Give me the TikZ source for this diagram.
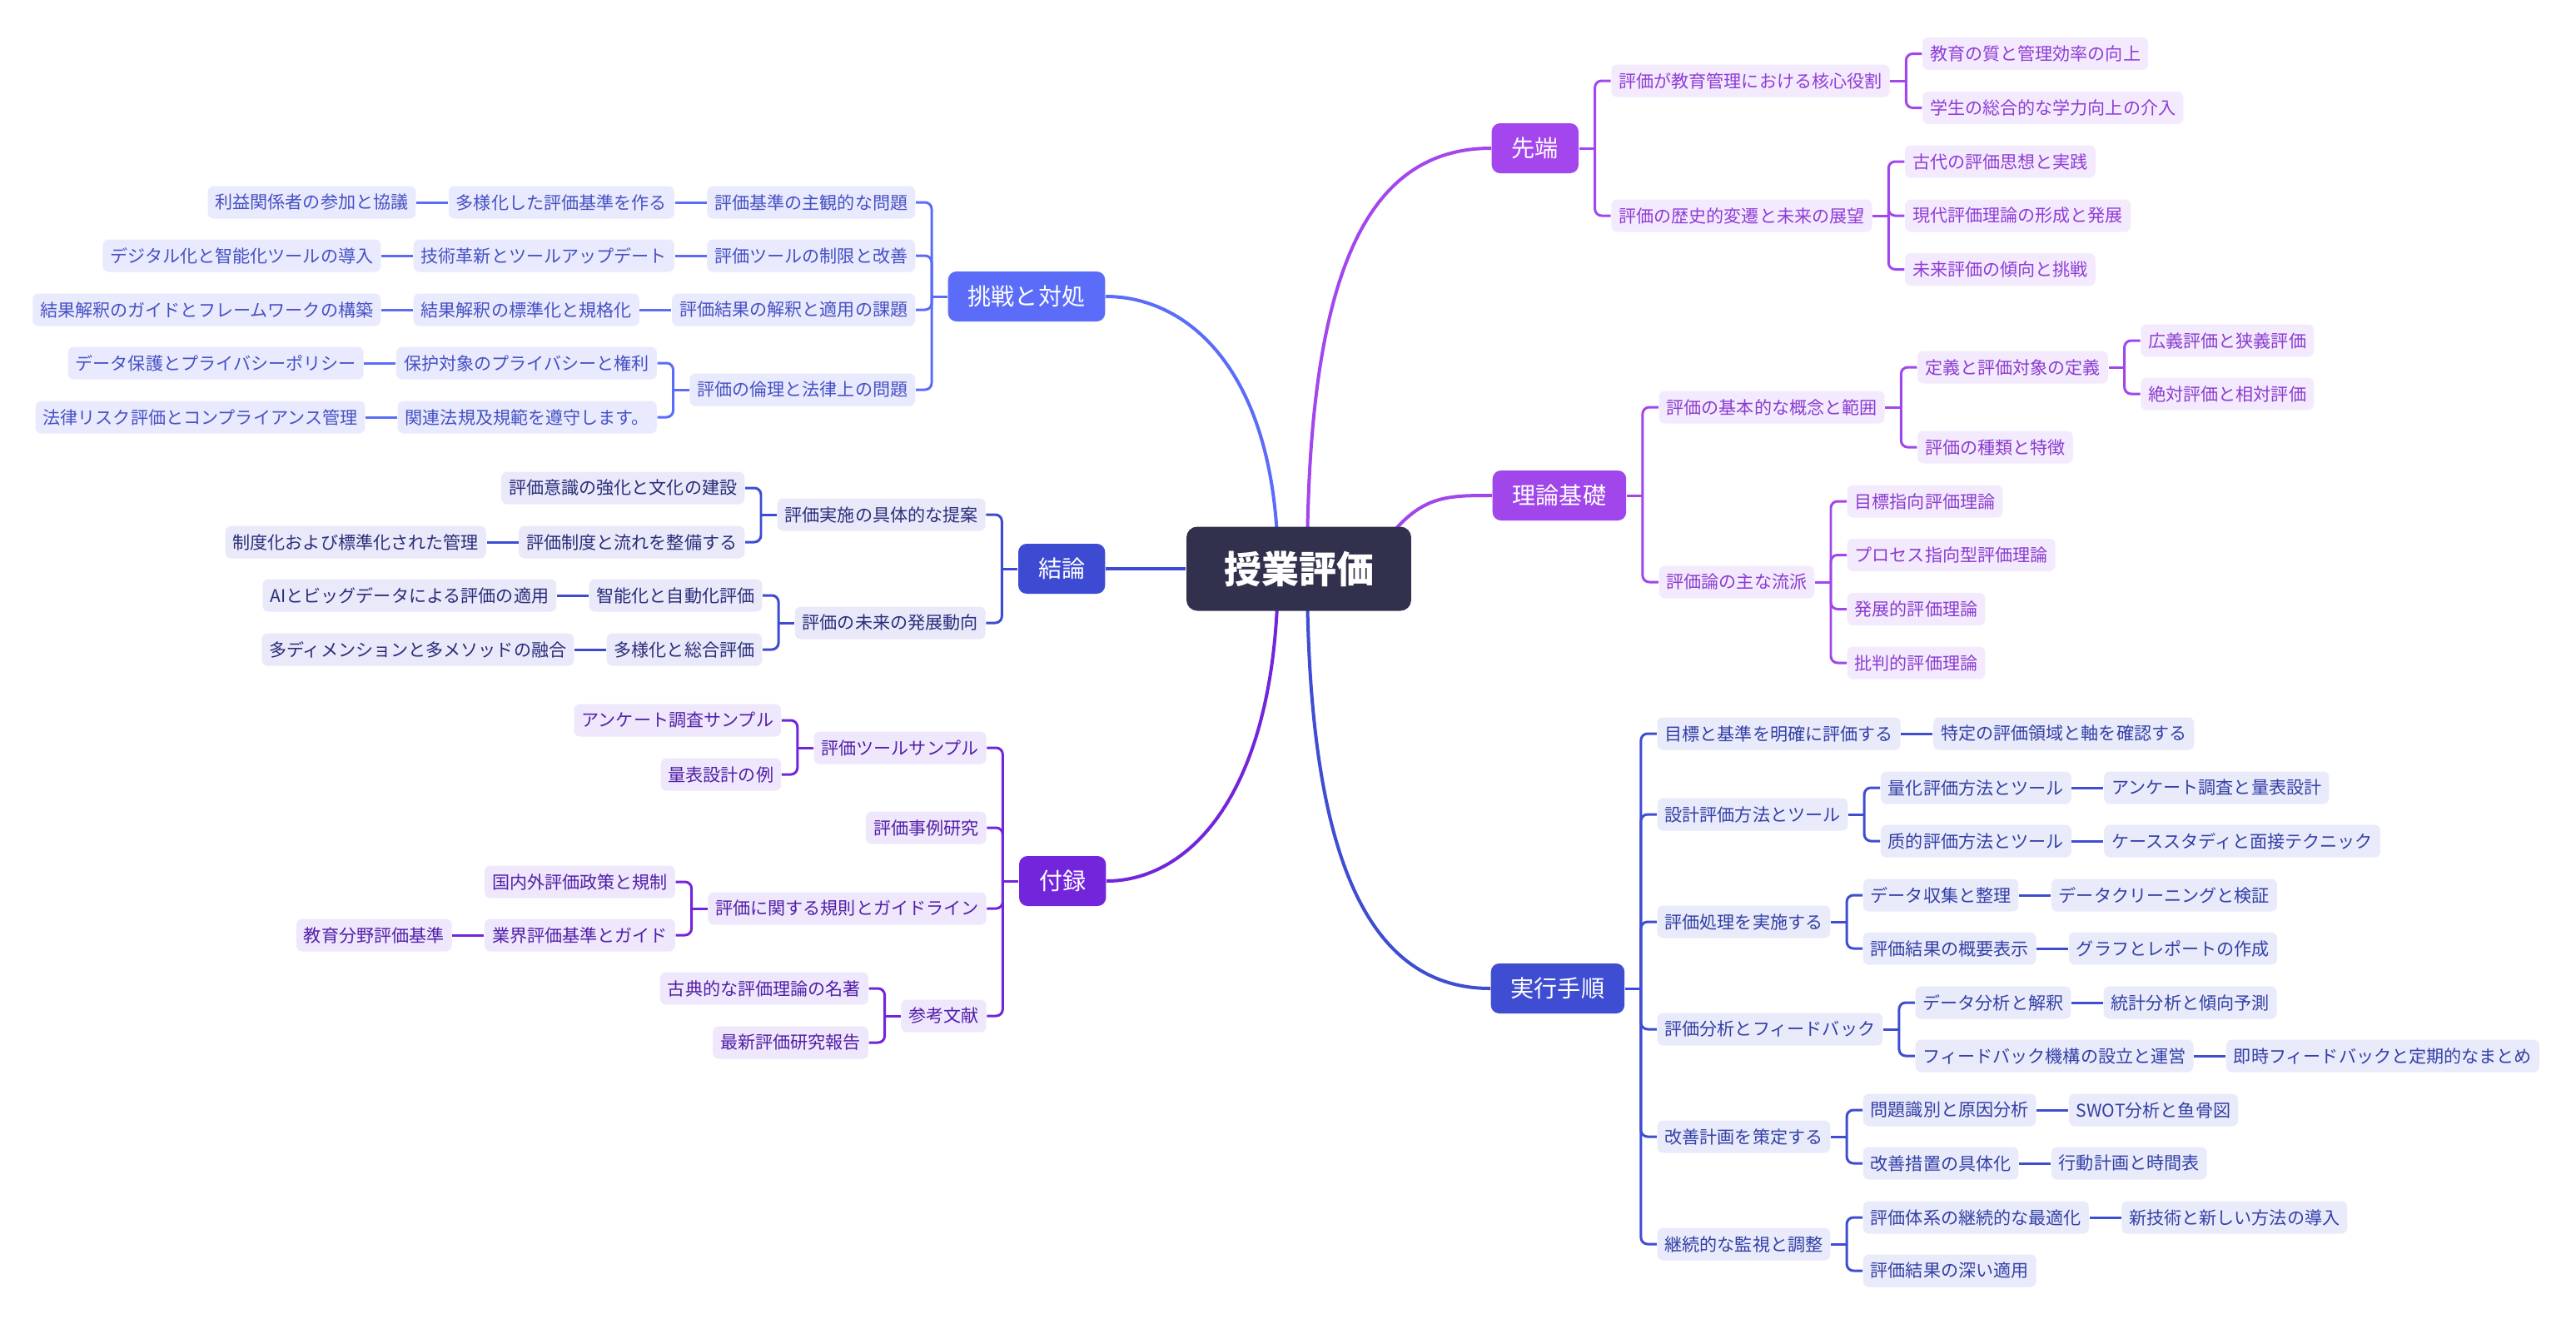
\documentclass[tikz,border=0pt]{standalone}
\usepackage{fontspec}
\setmainfont{Noto Sans CJK JP}
\usepackage{tikz}
\usetikzlibrary{positioning,calc,backgrounds}
\definecolor{rootcolor}{HTML}{31304D}
\definecolor{chosencolor}{HTML}{5B6DF8}
\definecolor{chosenfill}{HTML}{E9EAFD}
\definecolor{chosentext}{HTML}{4651C4}
\definecolor{ketsuroncolor}{HTML}{3D4BD3}
\definecolor{ketsuronfill}{HTML}{E9E9FA}
\definecolor{ketsurontext}{HTML}{2B2D7A}
\definecolor{furokucolor}{HTML}{7325DB}
\definecolor{furokufill}{HTML}{EFE7FC}
\definecolor{furokutext}{HTML}{5220A8}
\definecolor{sentancolor}{HTML}{A346EE}
\definecolor{sentanfill}{HTML}{F4EAFD}
\definecolor{sentantext}{HTML}{8E3DD6}
\definecolor{rironcolor}{HTML}{A046EA}
\definecolor{rironfill}{HTML}{F4EAFD}
\definecolor{rirontext}{HTML}{8A3CD0}
\definecolor{jikkocolor}{HTML}{3F4DD2}
\definecolor{jikkofill}{HTML}{E9EAFA}
\definecolor{jikkotext}{HTML}{3340A6}

\tikzset{
  rootbox/.style={rectangle,rounded corners=0.13cm,fill=rootcolor,text=white,minimum height=1.01cm,inner xsep=0.45cm,inner ysep=0pt,font=\fontsize{12.8}{14}\selectfont\bfseries},
  topic/.style={rectangle,rounded corners=0.1cm,minimum height=0.6cm,inner xsep=0.24cm,inner ysep=0pt,text=white,font=\fontsize{8}{9}\selectfont},
  leaf/.style={rectangle,rounded corners=0.07cm,minimum height=0.39cm,inner xsep=0.09cm,inner ysep=0pt,font=\fontsize{6}{7}\selectfont},
  link/.style={line width=0.85pt,rounded corners=0.08cm},
  mainlink/.style={line width=1.14pt},
  chosentopic/.style={topic,fill=chosencolor},
  chosenleaf/.style={leaf,fill=chosenfill,text=chosentext},
  chosenline/.style={link,draw=chosencolor},
  ketsurontopic/.style={topic,fill=ketsuroncolor},
  ketsuronleaf/.style={leaf,fill=ketsuronfill,text=ketsurontext},
  ketsuronline/.style={link,draw=ketsuroncolor},
  furokutopic/.style={topic,fill=furokucolor},
  furokuleaf/.style={leaf,fill=furokufill,text=furokutext},
  furokuline/.style={link,draw=furokucolor},
  sentantopic/.style={topic,fill=sentancolor},
  sentanleaf/.style={leaf,fill=sentanfill,text=sentantext},
  sentanline/.style={link,draw=sentancolor},
  rirontopic/.style={topic,fill=rironcolor},
  rironleaf/.style={leaf,fill=rironfill,text=rirontext},
  rironline/.style={link,draw=rironcolor},
  jikkotopic/.style={topic,fill=jikkocolor},
  jikkoleaf/.style={leaf,fill=jikkofill,text=jikkotext},
  jikkoline/.style={link,draw=jikkocolor}
}

\begin{document}
\begin{tikzpicture}[node distance=0.38cm]
\useasboundingbox (0,0) rectangle (30.94,-16.07);
\node[rootbox] (root) at (15.60,-6.83) {授業評価};

% 先端
\node[sentantopic,anchor=west] (sentan) at (17.91,-1.78) {先端};
\node[sentanleaf,right=of sentan,yshift=0.81cm] (sentan1) {評価が教育管理における核心役割};
\node[sentanleaf,right=of sentan,yshift=-0.81cm] (sentan2) {評価の歴史的変遷と未来の展望};
\node[sentanleaf,right=of sentan1,yshift=0.325cm] (sentan11) {教育の質と管理効率の向上};
\node[sentanleaf,right=of sentan1,yshift=-0.325cm] (sentan12) {学生の総合的な学力向上の介入};
\node[sentanleaf,right=of sentan2,yshift=0.65cm] (sentan21) {古代の評価思想と実践};
\node[sentanleaf,right=of sentan2] (sentan22) {現代評価理論の形成と発展};
\node[sentanleaf,right=of sentan2,yshift=-0.645cm] (sentan23) {未来評価の傾向と挑戦};
\draw[sentanline] (sentan.east) -- ++(0.19,0) coordinate (sentanbar);
\draw[sentanline] (sentanbar) |- (sentan1.west);
\draw[sentanline] (sentanbar) |- (sentan2.west);
\draw[sentanline] (sentan1.east) -- ++(0.19,0) coordinate (sentan1bar);
\draw[sentanline] (sentan1bar) |- (sentan11.west);
\draw[sentanline] (sentan1bar) |- (sentan12.west);
\draw[sentanline] (sentan2.east) -- ++(0.19,0) coordinate (sentan2bar);
\draw[sentanline] (sentan2bar) |- (sentan21.west);
\draw[sentanline] (sentan2bar) |- (sentan22.west);
\draw[sentanline] (sentan2bar) |- (sentan23.west);

% 理論基礎
\node[rirontopic,anchor=west] (riron) at (17.92,-5.95) {理論基礎};
\node[rironleaf,right=of riron,yshift=1.06cm] (riron1) {評価の基本的な概念と範囲};
\node[rironleaf,right=of riron,yshift=-1.04cm] (riron2) {評価論の主な流派};
\node[rironleaf,right=of riron1,yshift=0.48cm] (riron11) {定義と評価対象の定義};
\node[rironleaf,right=of riron1,yshift=-0.48cm] (riron12) {評価の種類と特徴};
\node[rironleaf,right=of riron11,yshift=0.32cm] (riron111) {広義評価と狭義評価};
\node[rironleaf,right=of riron11,yshift=-0.32cm] (riron112) {絶対評価と相対評価};
\node[rironleaf,right=of riron2,yshift=0.97cm] (riron21) {目標指向評価理論};
\node[rironleaf,right=of riron2,yshift=0.325cm] (riron22) {プロセス指向型評価理論};
\node[rironleaf,right=of riron2,yshift=-0.325cm] (riron23) {発展的評価理論};
\node[rironleaf,right=of riron2,yshift=-0.97cm] (riron24) {批判的評価理論};
\draw[rironline] (riron.east) -- ++(0.19,0) coordinate (rironbar);
\draw[rironline] (rironbar) |- (riron1.west);
\draw[rironline] (rironbar) |- (riron2.west);
\draw[rironline] (riron1.east) -- ++(0.19,0) coordinate (riron1bar);
\draw[rironline] (riron1bar) |- (riron11.west);
\draw[rironline] (riron1bar) |- (riron12.west);
\draw[rironline] (riron11.east) -- ++(0.19,0) coordinate (riron11bar);
\draw[rironline] (riron11bar) |- (riron111.west);
\draw[rironline] (riron11bar) |- (riron112.west);
\draw[rironline] (riron2.east) -- ++(0.19,0) coordinate (riron2bar);
\draw[rironline] (riron2bar) |- (riron21.west);
\draw[rironline] (riron2bar) |- (riron22.west);
\draw[rironline] (riron2bar) |- (riron23.west);
\draw[rironline] (riron2bar) |- (riron24.west);

% 実行手順
\node[jikkotopic,anchor=west] (jikko) at (17.90,-11.87) {実行手順};
\node[jikkoleaf,right=of jikko,yshift=3.06cm] (jikko1) {目標と基準を明確に評価する};
\node[jikkoleaf,right=of jikko1] (jikko11) {特定の評価領域と軸を確認する};
\node[jikkoleaf,right=of jikko,yshift=2.09cm] (jikko2) {設計評価方法とツール};
\node[jikkoleaf,right=of jikko2,yshift=0.32cm] (jikko21) {量化評価方法とツール};
\node[jikkoleaf,right=of jikko21] (jikko211) {アンケート調査と量表設計};
\node[jikkoleaf,right=of jikko2,yshift=-0.32cm] (jikko22) {质的評価方法とツール};
\node[jikkoleaf,right=of jikko22] (jikko221) {ケーススタディと面接テクニック};
\node[jikkoleaf,right=of jikko,yshift=0.80cm] (jikko3) {評価処理を実施する};
\node[jikkoleaf,right=of jikko3,yshift=0.32cm] (jikko31) {データ収集と整理};
\node[jikkoleaf,right=of jikko31] (jikko311) {データクリーニングと検証};
\node[jikkoleaf,right=of jikko3,yshift=-0.32cm] (jikko32) {評価結果の概要表示};
\node[jikkoleaf,right=of jikko32] (jikko321) {グラフとレポートの作成};
\node[jikkoleaf,right=of jikko,yshift=-0.49cm] (jikko4) {評価分析とフィードバック};
\node[jikkoleaf,right=of jikko4,yshift=0.32cm] (jikko41) {データ分析と解釈};
\node[jikkoleaf,right=of jikko41] (jikko411) {統計分析と傾向予測};
\node[jikkoleaf,right=of jikko4,yshift=-0.32cm] (jikko42) {フィードバック機構の設立と運営};
\node[jikkoleaf,right=of jikko42] (jikko421) {即時フィードバックと定期的なまとめ};
\node[jikkoleaf,right=of jikko,yshift=-1.78cm] (jikko5) {改善計画を策定する};
\node[jikkoleaf,right=of jikko5,yshift=0.32cm] (jikko51) {問題識別と原因分析};
\node[jikkoleaf,right=of jikko51] (jikko511) {SWOT分析と鱼骨図};
\node[jikkoleaf,right=of jikko5,yshift=-0.32cm] (jikko52) {改善措置の具体化};
\node[jikkoleaf,right=of jikko52] (jikko521) {行動計画と時間表};
\node[jikkoleaf,right=of jikko,yshift=-3.07cm] (jikko6) {継続的な監視と調整};
\node[jikkoleaf,right=of jikko6,yshift=0.32cm] (jikko61) {評価体系の継続的な最適化};
\node[jikkoleaf,right=of jikko61] (jikko611) {新技術と新しい方法の導入};
\node[jikkoleaf,right=of jikko6,yshift=-0.32cm] (jikko62) {評価結果の深い適用};
\draw[jikkoline] (jikko.east) -- ++(0.19,0) coordinate (jikkobar);
\draw[jikkoline] (jikkobar) |- (jikko1.west);
\draw[jikkoline] (jikkobar) |- (jikko2.west);
\draw[jikkoline] (jikkobar) |- (jikko3.west);
\draw[jikkoline] (jikkobar) |- (jikko4.west);
\draw[jikkoline] (jikkobar) |- (jikko5.west);
\draw[jikkoline] (jikkobar) |- (jikko6.west);
\draw[jikkoline] (jikko1.east) -- (jikko11.west);
\draw[jikkoline] (jikko2.east) -- ++(0.19,0) coordinate (jikko2bar);
\draw[jikkoline] (jikko2bar) |- (jikko21.west);
\draw[jikkoline] (jikko2bar) |- (jikko22.west);
\draw[jikkoline] (jikko21.east) -- (jikko211.west);
\draw[jikkoline] (jikko22.east) -- (jikko221.west);
\draw[jikkoline] (jikko3.east) -- ++(0.19,0) coordinate (jikko3bar);
\draw[jikkoline] (jikko3bar) |- (jikko31.west);
\draw[jikkoline] (jikko3bar) |- (jikko32.west);
\draw[jikkoline] (jikko31.east) -- (jikko311.west);
\draw[jikkoline] (jikko32.east) -- (jikko321.west);
\draw[jikkoline] (jikko4.east) -- ++(0.19,0) coordinate (jikko4bar);
\draw[jikkoline] (jikko4bar) |- (jikko41.west);
\draw[jikkoline] (jikko4bar) |- (jikko42.west);
\draw[jikkoline] (jikko41.east) -- (jikko411.west);
\draw[jikkoline] (jikko42.east) -- (jikko421.west);
\draw[jikkoline] (jikko5.east) -- ++(0.19,0) coordinate (jikko5bar);
\draw[jikkoline] (jikko5bar) |- (jikko51.west);
\draw[jikkoline] (jikko5bar) |- (jikko52.west);
\draw[jikkoline] (jikko51.east) -- (jikko511.west);
\draw[jikkoline] (jikko52.east) -- (jikko521.west);
\draw[jikkoline] (jikko6.east) -- ++(0.19,0) coordinate (jikko6bar);
\draw[jikkoline] (jikko6bar) |- (jikko61.west);
\draw[jikkoline] (jikko6bar) |- (jikko62.west);
\draw[jikkoline] (jikko61.east) -- (jikko611.west);

% 挑戦と対処
\node[chosentopic,anchor=east] (chosen) at (13.28,-3.56) {挑戦と対処};
\node[chosenleaf,left=of chosen,yshift=1.13cm] (chosen1) {評価基準の主観的な問題};
\node[chosenleaf,left=of chosen1] (chosen11) {多様化した評価基準を作る};
\node[chosenleaf,left=of chosen11] (chosen111) {利益関係者の参加と協議};
\node[chosenleaf,left=of chosen,yshift=0.49cm] (chosen2) {評価ツールの制限と改善};
\node[chosenleaf,left=of chosen2] (chosen21) {技術革新とツールアップデート};
\node[chosenleaf,left=of chosen21] (chosen211) {デジタル化と智能化ツールの導入};
\node[chosenleaf,left=of chosen,yshift=-0.16cm] (chosen3) {評価結果の解釈と適用の課題};
\node[chosenleaf,left=of chosen3] (chosen31) {結果解釈の標準化と規格化};
\node[chosenleaf,left=of chosen31] (chosen311) {結果解釈のガイドとフレームワークの構築};
\node[chosenleaf,left=of chosen,yshift=-1.12cm] (chosen4) {評価の倫理と法律上の問題};
\node[chosenleaf,left=of chosen4,yshift=0.32cm] (chosen41) {保护対象のプライバシーと権利};
\node[chosenleaf,left=of chosen41] (chosen411) {データ保護とプライバシーポリシー};
\node[chosenleaf,left=of chosen4,yshift=-0.33cm] (chosen42) {関連法規及規範を遵守します。};
\node[chosenleaf,left=of chosen42] (chosen421) {法律リスク評価とコンプライアンス管理};
\draw[chosenline] (chosen.west) -- ++(-0.19,0) coordinate (chosenbar);
\draw[chosenline] (chosenbar) |- (chosen1.east);
\draw[chosenline] (chosenbar) |- (chosen2.east);
\draw[chosenline] (chosenbar) |- (chosen3.east);
\draw[chosenline] (chosenbar) |- (chosen4.east);
\draw[chosenline] (chosen1.west) -- (chosen11.east);
\draw[chosenline] (chosen11.west) -- (chosen111.east);
\draw[chosenline] (chosen2.west) -- (chosen21.east);
\draw[chosenline] (chosen21.west) -- (chosen211.east);
\draw[chosenline] (chosen3.west) -- (chosen31.east);
\draw[chosenline] (chosen31.west) -- (chosen311.east);
\draw[chosenline] (chosen4.west) -- ++(-0.19,0) coordinate (chosen4bar);
\draw[chosenline] (chosen4bar) |- (chosen41.east);
\draw[chosenline] (chosen4bar) |- (chosen42.east);
\draw[chosenline] (chosen41.west) -- (chosen411.east);
\draw[chosenline] (chosen42.west) -- (chosen421.east);

% 結論
\node[ketsurontopic,anchor=east] (ketsuron) at (13.28,-6.83) {結論};
\node[ketsuronleaf,left=of ketsuron,yshift=0.65cm] (ketsuron1) {評価実施の具体的な提案};
\node[ketsuronleaf,left=of ketsuron,yshift=-0.65cm] (ketsuron2) {評価の未来の発展動向};
\node[ketsuronleaf,left=of ketsuron1,yshift=0.32cm] (ketsuron11) {評価意識の強化と文化の建設};
\node[ketsuronleaf,left=of ketsuron1,yshift=-0.33cm] (ketsuron12) {評価制度と流れを整備する};
\node[ketsuronleaf,left=of ketsuron12] (ketsuron121) {制度化および標準化された管理};
\node[ketsuronleaf,left=of ketsuron2,yshift=0.33cm] (ketsuron21) {智能化と自動化評価};
\node[ketsuronleaf,left=of ketsuron21] (ketsuron211) {AIとビッグデータによる評価の適用};
\node[ketsuronleaf,left=of ketsuron2,yshift=-0.32cm] (ketsuron22) {多様化と総合評価};
\node[ketsuronleaf,left=of ketsuron22] (ketsuron221) {多ディメンションと多メソッドの融合};
\draw[ketsuronline] (ketsuron.west) -- ++(-0.19,0) coordinate (ketsuronbar);
\draw[ketsuronline] (ketsuronbar) |- (ketsuron1.east);
\draw[ketsuronline] (ketsuronbar) |- (ketsuron2.east);
\draw[ketsuronline] (ketsuron1.west) -- ++(-0.19,0) coordinate (ketsuron1bar);
\draw[ketsuronline] (ketsuron1bar) |- (ketsuron11.east);
\draw[ketsuronline] (ketsuron1bar) |- (ketsuron12.east);
\draw[ketsuronline] (ketsuron12.west) -- (ketsuron121.east);
\draw[ketsuronline] (ketsuron2.west) -- ++(-0.19,0) coordinate (ketsuron2bar);
\draw[ketsuronline] (ketsuron2bar) |- (ketsuron21.east);
\draw[ketsuronline] (ketsuron2bar) |- (ketsuron22.east);
\draw[ketsuronline] (ketsuron21.west) -- (ketsuron211.east);
\draw[ketsuronline] (ketsuron22.west) -- (ketsuron221.east);

% 付録
\node[furokutopic,anchor=east] (furoku) at (13.29,-10.58) {付録};
\node[furokuleaf,left=of furoku,yshift=1.60cm] (furoku1) {評価ツールサンプル};
\node[furokuleaf,left=of furoku1,yshift=0.33cm] (furoku11) {アンケート調査サンプル};
\node[furokuleaf,left=of furoku1,yshift=-0.32cm] (furoku12) {量表設計の例};
\node[furokuleaf,left=of furoku,yshift=0.64cm] (furoku2) {評価事例研究};
\node[furokuleaf,left=of furoku,yshift=-0.33cm] (furoku3) {評価に関する規則とガイドライン};
\node[furokuleaf,left=of furoku3,yshift=0.32cm] (furoku31) {国内外評価政策と規制};
\node[furokuleaf,left=of furoku3,yshift=-0.32cm] (furoku32) {業界評価基準とガイド};
\node[furokuleaf,left=of furoku32] (furoku321) {教育分野評価基準};
\node[furokuleaf,left=of furoku,yshift=-1.62cm] (furoku4) {参考文献};
\node[furokuleaf,left=of furoku4,yshift=0.33cm] (furoku41) {古典的な評価理論の名著};
\node[furokuleaf,left=of furoku4,yshift=-0.32cm] (furoku42) {最新評価研究報告};
\draw[furokuline] (furoku.west) -- ++(-0.19,0) coordinate (furokubar);
\draw[furokuline] (furokubar) |- (furoku1.east);
\draw[furokuline] (furokubar) |- (furoku2.east);
\draw[furokuline] (furokubar) |- (furoku3.east);
\draw[furokuline] (furokubar) |- (furoku4.east);
\draw[furokuline] (furoku1.west) -- ++(-0.19,0) coordinate (furoku1bar);
\draw[furokuline] (furoku1bar) |- (furoku11.east);
\draw[furokuline] (furoku1bar) |- (furoku12.east);
\draw[furokuline] (furoku3.west) -- ++(-0.19,0) coordinate (furoku3bar);
\draw[furokuline] (furoku3bar) |- (furoku31.east);
\draw[furokuline] (furoku3bar) |- (furoku32.east);
\draw[furokuline] (furoku32.west) -- (furoku321.east);
\draw[furokuline] (furoku4.west) -- ++(-0.19,0) coordinate (furoku4bar);
\draw[furokuline] (furoku4bar) |- (furoku41.east);
\draw[furokuline] (furoku4bar) |- (furoku42.east);

% main curves, behind the root
\begin{scope}[on background layer]
\fill[white] (0,0) rectangle (30.94,-16.07);
\draw[mainlink,draw=sentancolor] ($(root.center)+(0.1,0)$) .. controls ($(root.center)+(0.1,3.53)$) and ($(sentan.west)+(-1.51,0)$) .. (sentan.west);
\draw[mainlink,draw=rironcolor] ($(root.center)+(0.9,0.13)$) .. controls ($(riron.west)+(-0.92,0)$) and ($(riron.west)+(-0.62,0)$) .. (riron.west);
\draw[mainlink,draw=jikkocolor] ($(root.center)+(0.1,0)$) .. controls ($(root.center)+(0.1,-3.17)$) and ($(jikko.west)+(-1.6,0)$) .. (jikko.west);
\draw[mainlink,draw=chosencolor] ($(root.center)+(-0.25,0)$) .. controls ($(root.center)+(-0.25,2.33)$) and ($(chosen.east)+(1.02,0)$) .. (chosen.east);
\draw[mainlink,draw=ketsuroncolor] (root) -- (ketsuron);
\draw[mainlink,draw=furokucolor] ($(root.center)+(-0.25,0)$) .. controls ($(root.center)+(-0.25,-2.67)$) and ($(furoku.east)+(1.01,0)$) .. (furoku.east);
\end{scope}
\end{tikzpicture}
\end{document}
